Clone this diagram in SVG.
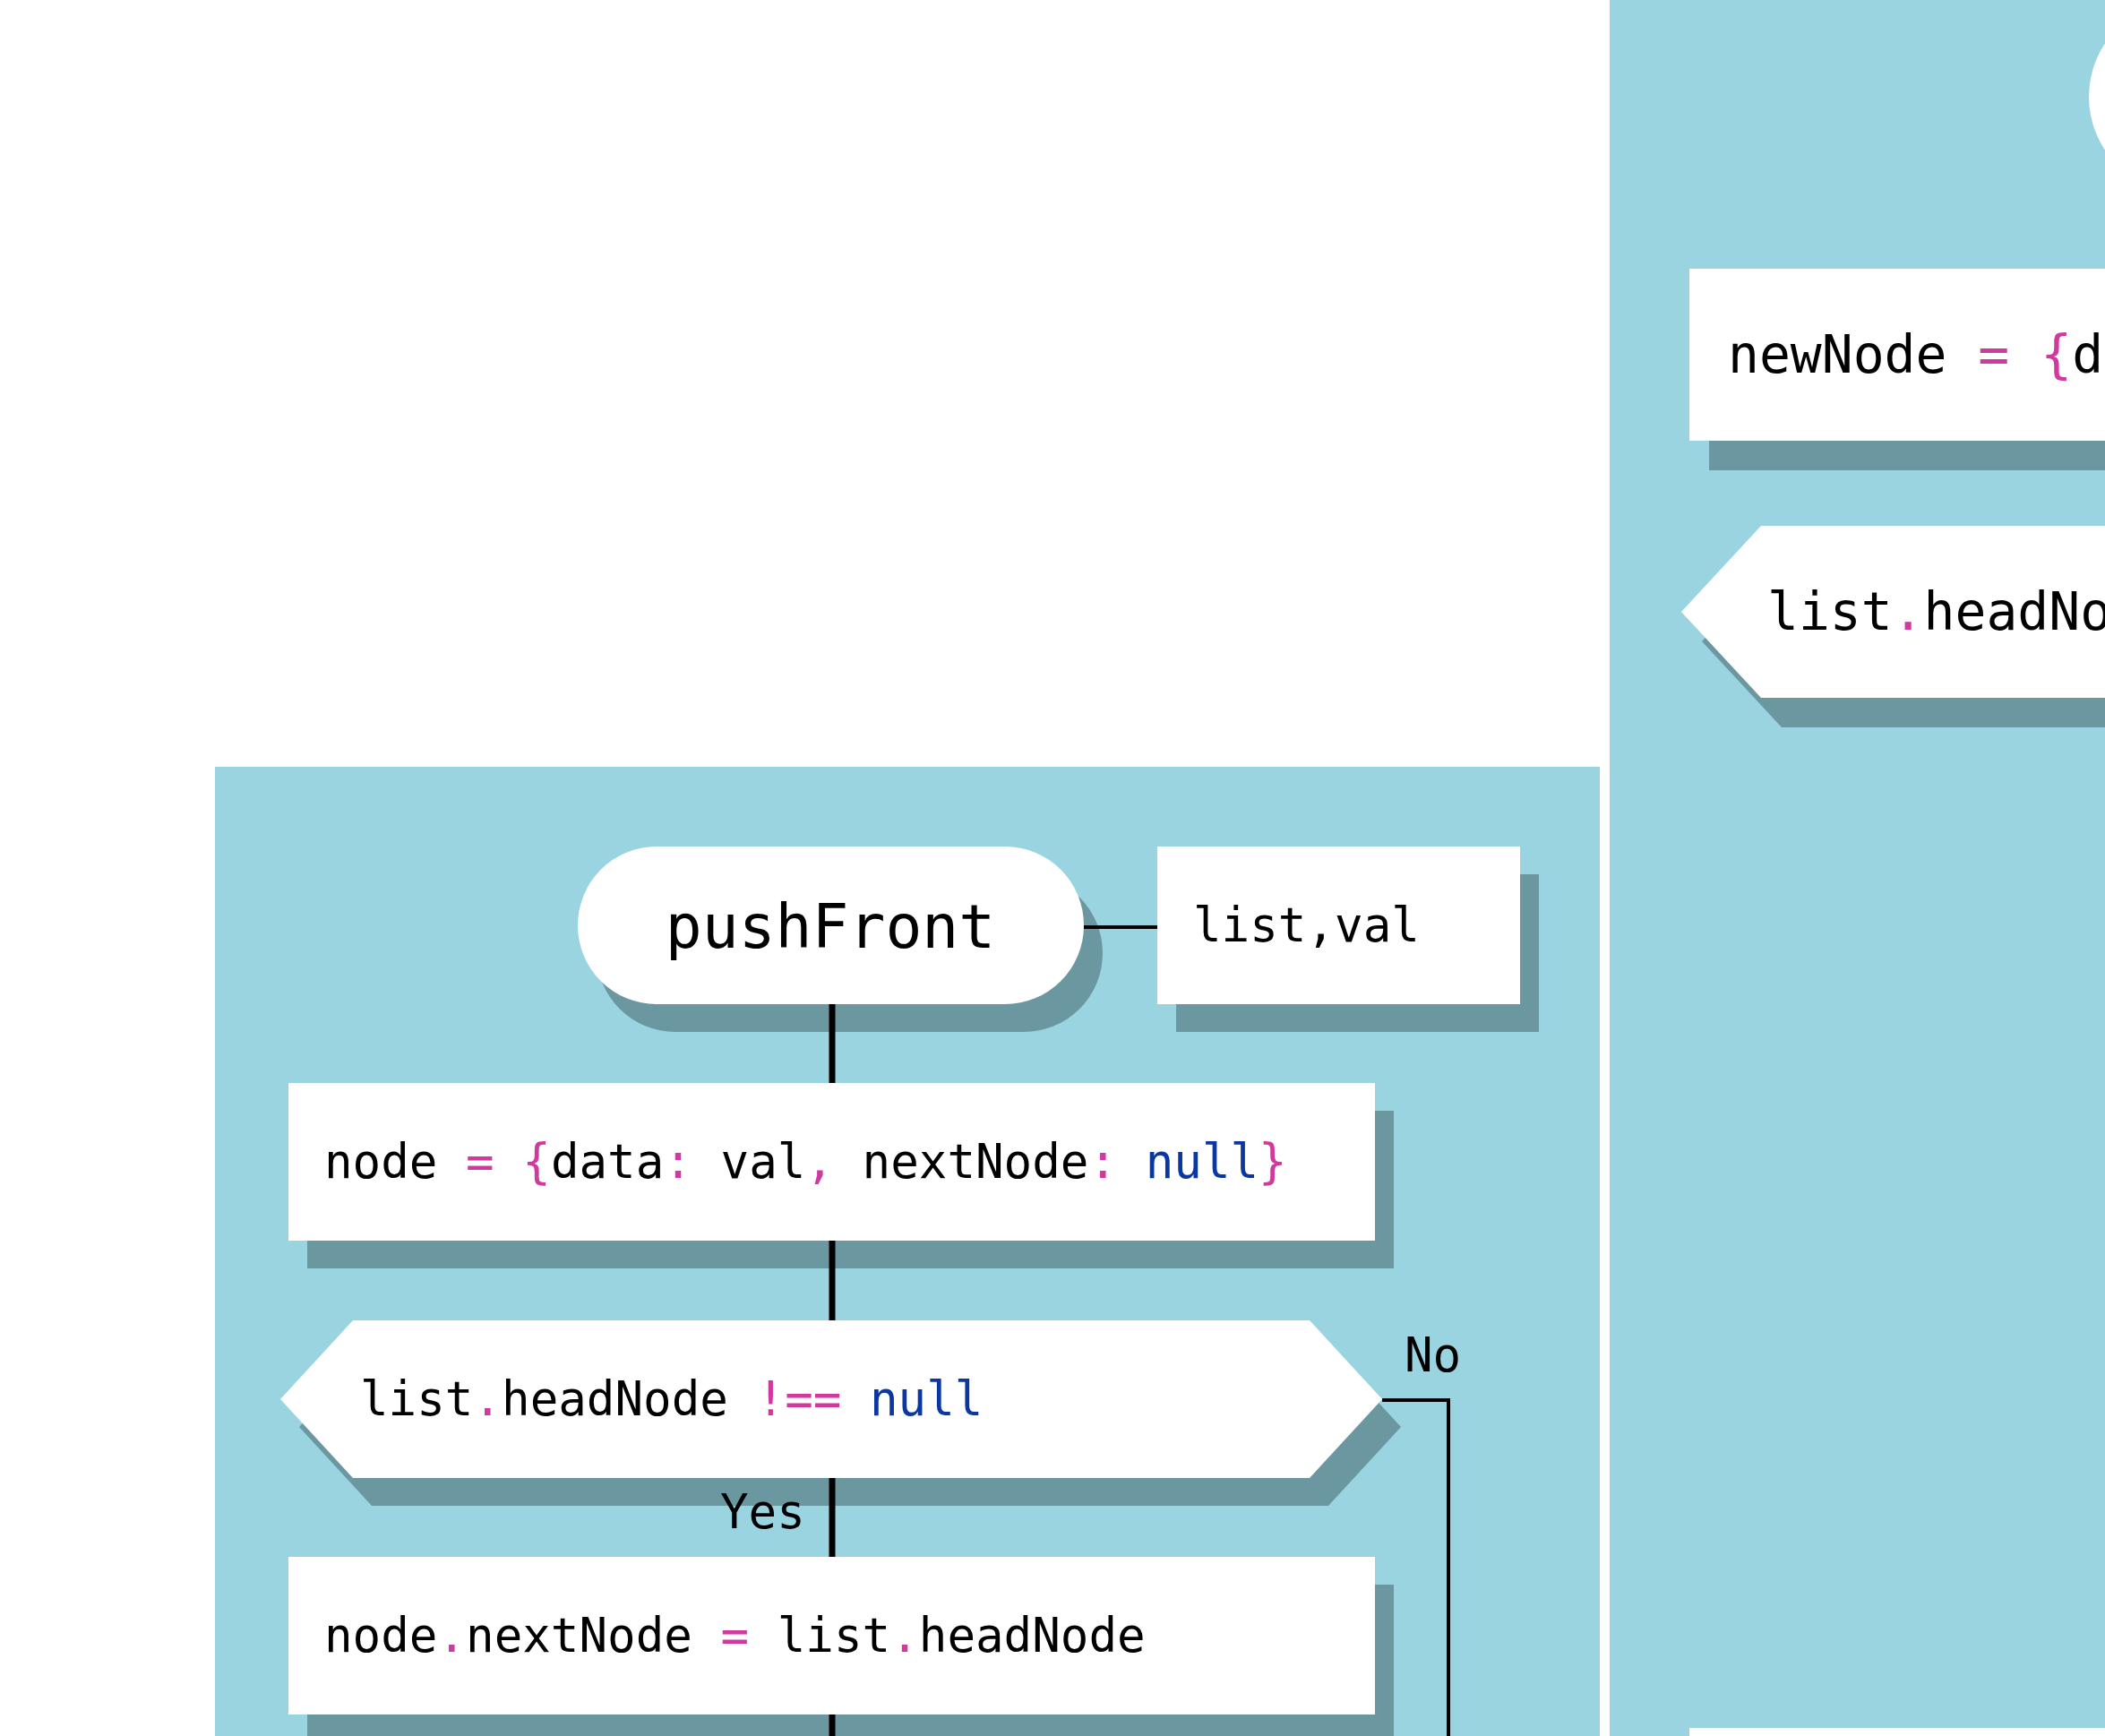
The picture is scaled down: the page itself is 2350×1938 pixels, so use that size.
<svg xmlns="http://www.w3.org/2000/svg" width="2350" height="1938" viewBox="0 0 2350 1938">
<style>
.panel{fill:#9ad4e1}
.shadow{fill:#6b97a0}
.shape{fill:#ffffff}
.t{font-family:"DejaVu Sans Mono","Liberation Mono",monospace;fill:#000000}
.s52{font-size:52.5px}
.s58{font-size:58px}
.s68{font-size:68px}
.m{fill:#d03a9e}
.b{fill:#0a37a0}
.main{stroke:#000;stroke-width:7;fill:none}
.thin{stroke:#000;stroke-width:4;fill:none}
</style>
<rect x="0" y="0" width="2350" height="1938" fill="#ffffff"/>
<rect class="panel" x="240" y="856" width="1546" height="1082"/>
<rect class="panel" x="1797" y="0" width="553" height="1938"/>

<g id="node-pushFront">
<rect class="shadow" x="666" y="976" width="565" height="176" rx="88"/>
<rect class="shape" x="645" y="945" width="565" height="176" rx="88"/>
<text class="t s68" x="927" y="1058" text-anchor="middle">pushFront</text>
</g>
<g id="node-params">
<rect class="shadow" x="1313" y="976" width="405" height="176"/>
<rect class="shape" x="1292" y="945" width="405" height="176"/>
<text class="t s52" x="1332" y="1051">list,val</text>
</g>
<g id="node-create">
<rect class="shadow" x="343" y="1240" width="1213" height="176"/>
<rect class="shape" x="322" y="1209" width="1213" height="176"/>
<text class="t s52" x="362" y="1315">node <tspan class="m">=</tspan> <tspan class="m">{</tspan>data<tspan class="m">:</tspan> val<tspan class="m">,</tspan> nextNode<tspan class="m">:</tspan> <tspan class="b">null</tspan><tspan class="m">}</tspan></text>
</g>
<g id="node-decision">
<polygon class="shadow" points="334,1593 415,1505 1483,1505 1564,1593 1483,1681 415,1681"/>
<polygon class="shape" points="313,1562 394,1474 1462,1474 1543,1562 1462,1650 394,1650"/>
<text class="t s52" x="402" y="1580">list<tspan class="m">.</tspan>headNode <tspan class="m">!==</tspan> <tspan class="b">null</tspan></text>
</g>
<g id="node-link">
<rect class="shadow" x="343" y="1769" width="1213" height="176"/>
<rect class="shape" x="322" y="1738" width="1213" height="176"/>
<text class="t s52" x="362" y="1844">node<tspan class="m">.</tspan>nextNode <tspan class="m">=</tspan> list<tspan class="m">.</tspan>headNode</text>
</g>

<g id="node-right-terminal">
<rect class="shape" x="2332" y="0" width="240" height="216" rx="108"/>
</g>
<g id="node-right-create">
<rect class="shadow" x="1908" y="333" width="600" height="192"/>
<rect class="shape" x="1886" y="300" width="600" height="192"/>
<text class="t s58" x="1929" y="416">newNode <tspan class="m">=</tspan> <tspan class="m">{</tspan>d</text>
</g>
<g id="node-right-decision">
<polygon class="shadow" points="1900,716 1989,620 2400,620 2400,812 1989,812"/>
<polygon class="shape" points="1877,683 1966,587 2400,587 2400,779 1966,779"/>
<text class="t s58" x="1973" y="703">list<tspan class="m">.</tspan>headNo</text>
</g>
<g id="node-right-bottom">
<rect class="shape" x="1886" y="1929" width="600" height="100"/>
</g>

<g id="connectors">
<line class="thin" x1="1210" y1="1035" x2="1292" y2="1035"/>
<line class="main" x1="929" y1="1121" x2="929" y2="1209"/>
<line class="main" x1="929" y1="1385" x2="929" y2="1474"/>
<line class="main" x1="929" y1="1650" x2="929" y2="1738"/>
<line class="main" x1="929" y1="1914" x2="929" y2="1938"/>
<polyline class="thin" points="1543,1563 1617,1563 1617,1938"/>
<text class="t s52" x="1568" y="1531">No</text>
<text class="t s52" x="804" y="1706">Yes</text>
</g>
</svg>
